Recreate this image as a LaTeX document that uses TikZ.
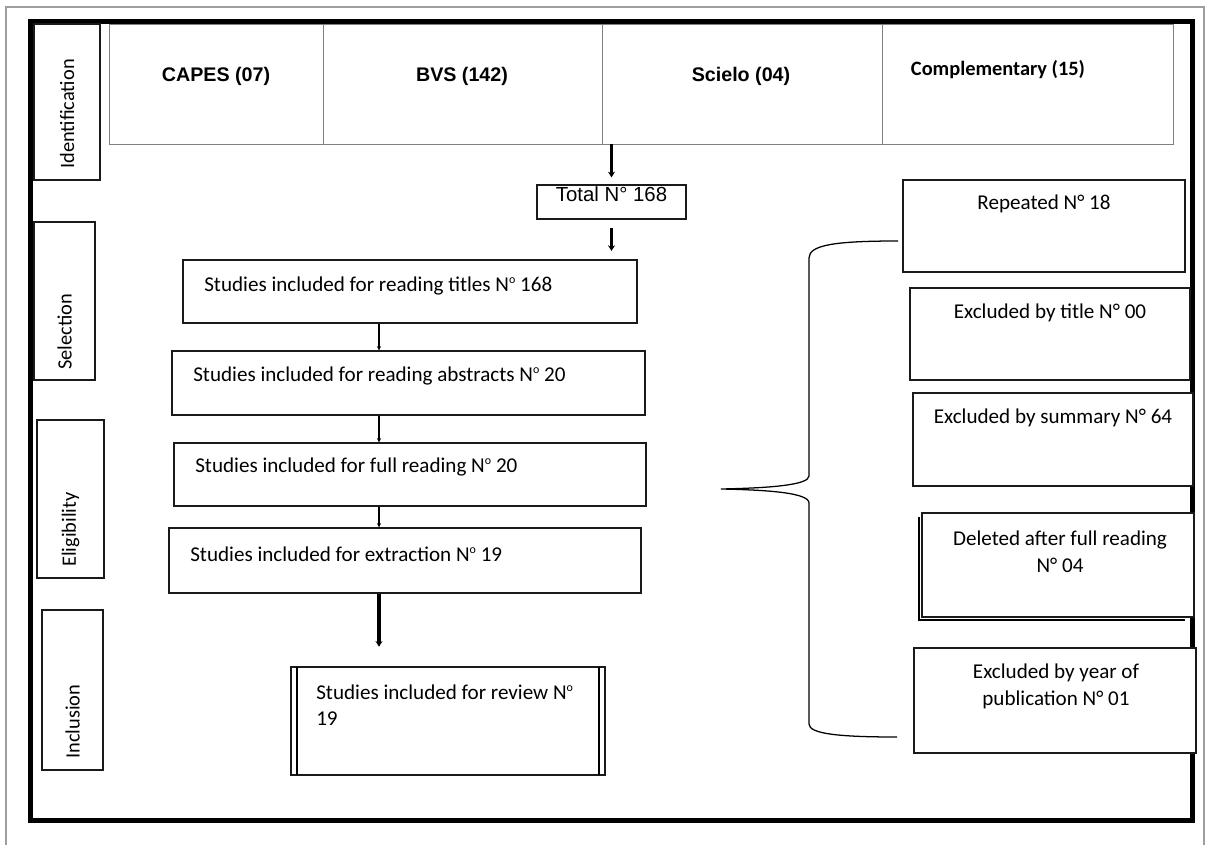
\documentclass[tikz,border=0pt]{standalone}
\usepackage{fontspec}
\setmainfont{Carlito}
\newfontfamily\arialfont{Liberation Sans}
\usepackage{tikz}
\usetikzlibrary{arrows.meta,positioning,calc,fit}
\definecolor{cLine}{HTML}{1A1A1A}
\definecolor{cGrid}{HTML}{808080}
\definecolor{cOuter}{HTML}{9E9E9E}
\newcommand{\numo}{N\raisebox{0.8ex}{\fontsize{8.5}{8.5}\selectfont o}}

\begin{document}
\begin{tikzpicture}[x=0.025cm,y=-0.025cm,
  box/.style={draw=cLine,fill=white,line width=0.9pt,inner sep=0pt},
  cell/.style={draw=cGrid,line width=0.6pt,inner sep=0pt},
  phasetext/.style={rotate=90,anchor=west,inner sep=0pt,font=\fontsize{14.5}{17}\selectfont},
  src/.style={font=\arialfont\bfseries\fontsize{14}{17}\selectfont},
  txt/.style={inner sep=0pt,font=\fontsize{15}{19}\selectfont},
  arr/.style={-{Stealth[length=3pt,width=3pt]},line width=1pt},
  thickarr/.style={-{Stealth[length=4pt,width=5pt]},line width=2.2pt}]
  \useasboundingbox (0,0) rectangle (1207,845);
  \draw[cOuter,line width=0.8pt] (6,850) -- (6,7) -- (1204,7) -- (1204,850);
  \draw[line width=3.4pt] (30.5,21.5) rectangle (1192.5,820.5);

  % sources
  \node[cell,fit={(109,24)(323,144)}] (capes) {};
  \node[cell,fit={(323,24)(602,144)}] (bvs) {};
  \node[cell,fit={(602,24)(882,144)}] (scielo) {};
  \node[cell,fit={(882,24)(1173,144)}] (compl) {};
  \node[src] (capesT) at (216,76) {CAPES (07)};
  \node[src] (bvsT) at (462,76) {BVS (142)};
  \node[src] (scieloT) at (741,76) {Scielo (04)};
  \node[font=\bfseries\fontsize{14.5}{17}\selectfont] (complT) at (998,70) {Complementary (15)};

  % phases
  \node[box,fit={(34,24)(100,180)}] (ident) {};
  \node[phasetext] (identT) at (67,169) {Identification};
  \node[box,fit={(34,222)(95,380)}] (select) {};
  \node[phasetext] (selectT) at (64.5,370) {Selection};
  \node[box,fit={(37,420)(104,578)}] (elig) {};
  \node[phasetext] (eligT) at (70.5,567) {Eligibility};
  \node[box,fit={(42,610)(103,770)}] (incl) {};
  \node[phasetext] (inclT) at (72.5,759) {Inclusion};

  % main flow
  \node[box,fit={(537,185)(686,219)},font=\arialfont\fontsize{14.5}{17}\selectfont] (total) {Total N° 168};
  \node[box,fit={(183,260)(637,323)}] (titles) {};
  \node[txt,anchor=west] (titlesT) at (204,286) {Studies included for reading titles \numo{} 168};
  \node[box,fit={(172,351)(645,415)}] (abstracts) {};
  \node[txt,anchor=west] (abstractsT) at (193,376) {Studies included for reading abstracts \numo{} 20};
  \node[box,fit={(174,443)(646,506)}] (full) {};
  \node[txt,anchor=west] (fullT) at (195,467) {Studies included for full reading \numo{} 20};
  \node[box,fit={(169,528)(641,593)}] (extract) {};
  \node[txt,anchor=west] (extractT) at (190,554) {Studies included for extraction \numo{} 19};
  \node[box,fit={(291,667)(605,775)}] (review) {};
  \draw[line width=0.9pt] (297,667) -- (297,775) (599,667) -- (599,775);
  \node[txt,anchor=west,align=left,font=\fontsize{15}{18.5}\selectfont] (reviewT) at (316,705) {Studies included for review \numo\\19};

  % exclusions
  \node[box,fit={(903,180)(1185,272)}] (repeated) {};
  \node[txt] (repeatedT) at (1044,204) {Repeated N° 18};
  \node[box,fit={(910,288)(1190,380)}] (bytitle) {};
  \node[txt] (bytitleT) at (1050,313) {Excluded by title N° 00};
  \node[box,fit={(913,393)(1193,486)}] (summary) {};
  \node[txt] (summaryT) at (1053,418) {Excluded by summary N° 64};
  \draw[line width=0.9pt] (919,517) -- (919,620) -- (1185,620);
  \node[box,fit={(922,513)(1194,617)}] (deleted) {};
  \node[txt,align=center] (deletedT) at (1060,551.5) {Deleted after full reading\\N° 04};
  \node[box,fit={(914,648)(1196,753)}] (year) {};
  \node[txt,align=center] (yearT) at (1056,686.5) {Excluded by year of\\publication N° 01};

  % connectors
  \coordinate (spine) at (379,0);
  \draw[thickarr,shorten >=5pt] (scielo.south -| total.north) -- (total.north);
  \draw[thickarr,shorten <=6pt,shorten >=6pt] (total.south) -- (total.south |- titles.north);
  \draw[arr] (titles.south -| spine) -- (abstracts.north -| spine);
  \draw[arr] (abstracts.south -| spine) -- (full.north -| spine);
  \draw[arr] (full.south -| spine) -- (extract.north -| spine);
  \draw[thickarr,shorten >=14pt] (extract.south -| spine) -- (review.north -| spine);

  % brace
  \coordinate (braceTop) at (898,241);
  \coordinate (braceTip) at (721,489);
  \coordinate (braceBot) at (897,737);
  \draw[line width=0.9pt] (braceTop) .. controls (835,241) and (809,245) .. (809,258) -- (809,476)
    .. controls (809,485) and (770,488) .. (braceTip)
    .. controls (770,490) and (809,493) .. (809,503) -- (809,724)
    .. controls (809,734) and (840,737) .. (braceBot);
\end{tikzpicture}
\end{document}
